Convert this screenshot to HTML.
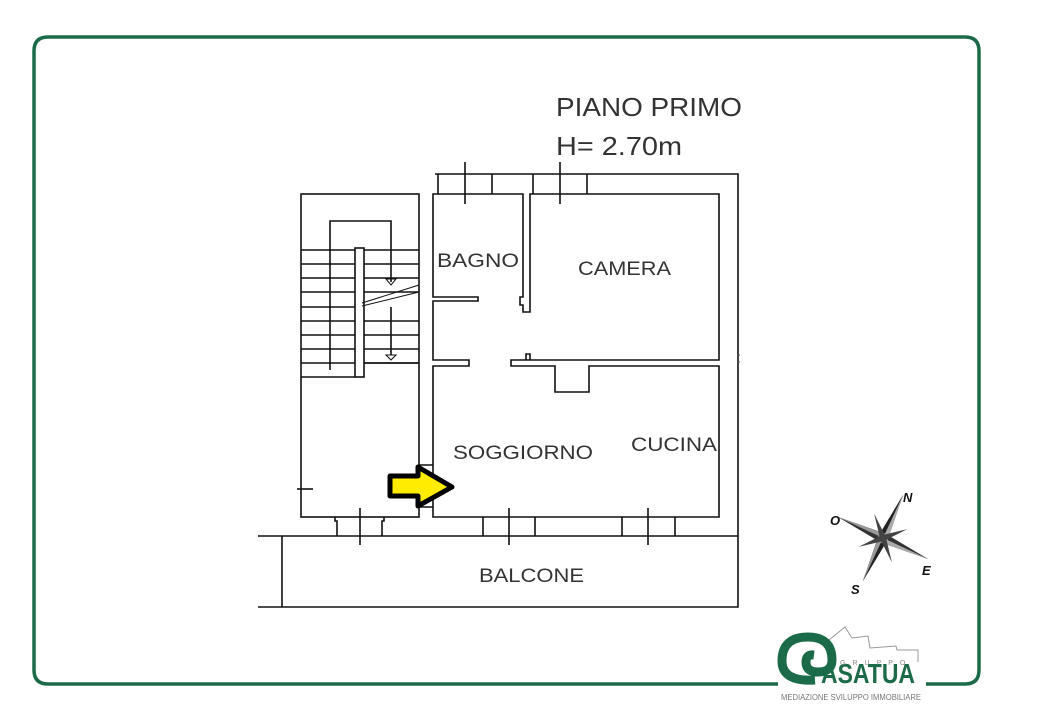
<!DOCTYPE html>
<html><head><meta charset="utf-8"><style>
html,body{margin:0;padding:0;background:#fff;}
svg{display:block;}
text{font-family:"Liberation Sans",sans-serif;}
</style></head><body>
<svg width="1040" height="720" viewBox="0 0 1040 720" xmlns="http://www.w3.org/2000/svg">
<rect width="1040" height="720" fill="#fff"/>
<path d="M778 684 L48 684 Q34 684 34 670 L34 51 Q34 37 48 37 L965 37 Q979 37 979 51 L979 670 Q979 684 965 684 L926 684" fill="none" stroke="#1b6a48" stroke-width="3.5"/>

<text x="556" y="116" font-size="26" fill="#333" textLength="186" lengthAdjust="spacingAndGlyphs">PIANO PRIMO</text>
<text x="556" y="155" font-size="26" fill="#333" textLength="126" lengthAdjust="spacingAndGlyphs">H= 2.70m</text>

<g fill="none" stroke="#111" stroke-width="1.6">
<path d="M435 174 L738 174 L738 607 L258 607"/>
<path d="M258 536 L738 536"/>
<path d="M282 536 L282 607"/>
<path d="M438 174 L438 194 M492 174 L492 194 M533 174 L533 194 M587 174 L587 194"/>
<path d="M465 162 L465 204 M560 162 L560 204"/>
<rect x="301" y="194" width="118" height="323"/>
<path d="M433 194 L523 194 L523 297 L520 297 L520 305 L523 305 L523 312 L530 312 L530 194 L719 194 L719 360 L511 360 L511 366 L555 366 L555 392 L589 392 L589 366 L719 366 L719 517 L433 517 L433 366 L469 366 L469 360 L433 360 L433 301 L478 301 L478 297 L433 297 Z"/>
<path d="M526 360 L526 354 L530 354 L530 360"/>
<path d="M419 465 L433 465 M419 507 L433 507"/>
<path d="M483 517 L483 536 M535 517 L535 536 M622 517 L622 536 M675 517 L675 536"/>
<path d="M509 508 L509 545 M648 508 L648 545"/>
<path d="M335 517 L335 521 L337 521 L337 536 M384 517 L384 521 L382 521 L382 536"/>
<path d="M360 508 L360 545"/>
<path d="M297 489 L313 489"/>
<path d="M301 250 L419 250 M301 264 L419 264 M301 278 L419 278 M301 292 L419 292 M301 307 L355 307 M301 321 L419 321 M301 335 L419 335 M301 349 L419 349 M301 363 L419 363 M301 377 L355 377"/>
<rect x="355" y="248" width="9" height="129" fill="#fff"/>
<path d="M364 363 L419 363"/>
<path d="M330 370 L330 221 L391 221 L391 282 M391 307 L391 355"/>
<path d="M362 303 L419 285 M362 306 L419 292" stroke-width="1"/>
<path d="M386 279 L396 279 L391 285 Z M386 355 L396 355 L391 360 Z" stroke-width="1"/>
</g>
<path d="M738 355 L740 355 M738 362 L740 362" stroke="#555" stroke-width="1"/>

<g font-size="19" fill="#333">
<text x="437" y="267" textLength="82" lengthAdjust="spacingAndGlyphs">BAGNO</text>
<text x="578" y="275" textLength="93" lengthAdjust="spacingAndGlyphs">CAMERA</text>
<text x="453" y="459" textLength="140" lengthAdjust="spacingAndGlyphs">SOGGIORNO</text>
<text x="631" y="451" textLength="86" lengthAdjust="spacingAndGlyphs">CUCINA</text>
<text x="479" y="582" textLength="105" lengthAdjust="spacingAndGlyphs">BALCONE</text>
</g>

<path d="M390 476 L418 476 L418 467 L452 487 L418 506 L418 496 L390 496 Z" fill="#ffec00" stroke="#000" stroke-width="5" stroke-linejoin="round"/>

<g transform="translate(883 538)">
<g transform="rotate(25)">
<polygon points="0,-48 5,0 0,48 -5,0" fill="#222"/>
<polygon points="-50,0 0,-5 50,0 0,5" fill="#333"/>
<polygon points="0,-48 5,0 0,0" fill="#aaa"/>
<polygon points="50,0 0,5 0,0" fill="#aaa"/>
<polygon points="0,48 -5,0 0,0" fill="#999"/>
<polygon points="-50,0 0,-5 0,0" fill="#999"/>
<g transform="rotate(45)">
<polygon points="0,-26 3,0 0,26 -3,0" fill="#444"/>
<polygon points="-26,0 0,-3 26,0 0,3" fill="#444"/>
</g>
</g>
</g>
<g font-size="13" font-weight="bold" font-style="italic" fill="#111">
<text x="903" y="502">N</text>
<text x="830" y="525">O</text>
<text x="922" y="575">E</text>
<text x="851" y="594">S</text>
</g>

<path d="M829 640 L845 627 L852 638 L868 636 L870 648 L896 646 L897 650 L918 650 L918 662" fill="none" stroke="#999" stroke-width="1"/>
<path d="M815 680 Q782 682 782 661 Q782 637 808 637 Q832 637 832 660 Q832 672 818 672 Q806 672 806 662 Q806 654 814 655" fill="none" stroke="#1b6a48" stroke-width="9"/>
<text x="821" y="683" font-size="28" font-weight="bold" fill="#1b6a48" textLength="94" lengthAdjust="spacingAndGlyphs">ASATUA</text>
<text x="840" y="665" font-size="7" fill="#888" letter-spacing="7">GRUPPO</text>
<text x="781" y="700" font-size="8" fill="#777" textLength="140" lengthAdjust="spacingAndGlyphs">MEDIAZIONE SVILUPPO IMMOBILIARE</text>
</svg>
</body></html>
